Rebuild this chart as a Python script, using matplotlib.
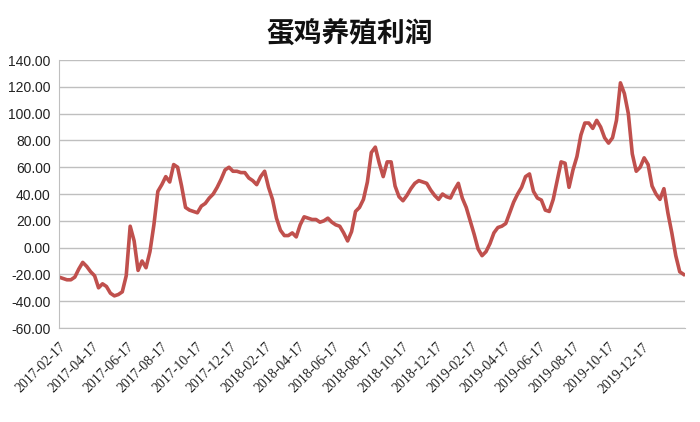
import matplotlib
matplotlib.use("Agg")
import matplotlib.pyplot as plt
import pandas as pd

start_date = "2017-02-17"
profit = [
    -22, -23, -24, -24, -22, -16, -11, -14, -18, -21,
    -30, -27, -29, -34, -36, -35, -33, -21, 16, 5,
    -17, -10, -15, -3, 17, 42, 47, 53, 49, 62,
    60, 46, 30, 28, 27, 26, 31, 33, 37, 40,
    45, 51, 58, 60, 57, 57, 56, 56, 52, 50,
    47, 53, 57, 45, 36, 22, 13, 9, 9, 11,
    8, 17, 23, 22, 21, 21, 19, 20, 22, 19,
    17, 16, 11, 5, 12, 27, 30, 36, 49, 71,
    75, 63, 53, 64, 64, 46, 38, 35, 39, 44,
    48, 50, 49, 48, 43, 39, 36, 40, 38, 37,
    43, 48, 37, 30, 20, 10, -1, -6, -3, 3,
    11, 15, 16, 18, 26, 34, 40, 45, 53, 55,
    42, 37, 35.5, 28, 27, 36, 50, 64, 63, 45,
    58, 68, 84, 93, 93, 89, 95, 90, 82, 78,
    82, 95, 123, 115, 100, 70, 57, 60, 67, 62,
    46, 40, 36, 44, 26, 11, -6, -18, -20,
]
dates = pd.date_range(start_date, periods=len(profit), freq="7D")

x_tick_labels = [
    "2017-02-17", "2017-04-17", "2017-06-17", "2017-08-17", "2017-10-17",
    "2017-12-17", "2018-02-17", "2018-04-17", "2018-06-17", "2018-08-17",
    "2018-10-17", "2018-12-17", "2019-02-17", "2019-04-17", "2019-06-17",
    "2019-08-17", "2019-10-17", "2019-12-17",
]
title = "蛋鸡养殖利润"
y_ticks = [-60, -40, -20, 0, 20, 40, 60, 80, 100, 120, 140]

fig = plt.figure(figsize=(7.0, 4.22), dpi=100)
ax = fig.add_axes([0.0843, 0.2227, 0.894, 0.635])

ax.plot(dates, profit, color="#C0504D", linewidth=2.6, solid_joinstyle="round")

ax.set_ylim(-60, 140)
ax.set_yticks(y_ticks)
ax.set_yticklabels([f"{v:.2f}" for v in y_ticks], family="Liberation Sans", fontsize=10)
ax.set_xlim(dates[0], dates[-1] + pd.Timedelta(days=2))

ax.set_xticks(pd.to_datetime(x_tick_labels))
ax.set_xticklabels(x_tick_labels, rotation=45, ha="right", rotation_mode="anchor",
                   family="Liberation Serif", fontsize=10)

ax.grid(axis="y", color="#BFBFBF", linewidth=1.0)
ax.set_axisbelow(True)
for s in ["top", "right"]:
    ax.spines[s].set_visible(False)
ax.spines["left"].set_color("#BFBFBF")
ax.spines["bottom"].set_color("#BFBFBF")
ax.tick_params(axis="both", length=0, colors="#222222")
ax.tick_params(axis="x", pad=9)
ax.tick_params(axis="y", pad=6)

fig.text(0.5, 0.917, title, ha="center", va="center", fontsize=20, fontweight="bold",
         family=["Noto Sans CJK SC", "DejaVu Sans"], color="#111111")

fig.savefig("out.png", dpi=100)
